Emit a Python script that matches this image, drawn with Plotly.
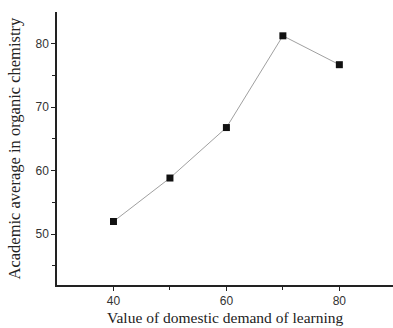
import plotly.graph_objects as go

demand = [40, 50, 60, 70, 80]
average = [52.0, 58.85, 66.8, 81.25, 76.7]

fig = go.Figure()
fig.add_trace(go.Scatter(
    x=demand, y=average, mode="lines+markers",
    line=dict(color="#a0a0a0", width=1),
    marker=dict(symbol="square", size=7, color="#111111"),
    showlegend=False,
))

axis_common = dict(
    showline=True, linecolor="#222222", linewidth=1.5,
    showgrid=False, zeroline=False, mirror=False,
    ticks="outside", ticklen=4, tickwidth=1.2, tickcolor="#222222",
    tickfont=dict(family="Liberation Sans, Arial", size=12, color="#333333"),
)
title_font = dict(family="Liberation Serif, Times New Roman", color="#222222")

fig.update_layout(
    width=393, height=328,
    margin=dict(l=57, r=0, t=12, b=43),
    paper_bgcolor="white", plot_bgcolor="white",
    xaxis=dict(
        range=[30, 89.5], tickvals=[40, 60, 80],
        minor=dict(ticks="outside", ticklen=3, tickwidth=1,
                   tickcolor="#222222", tickvals=[50, 70]),
        **axis_common,
    ),
    yaxis=dict(
        range=[42, 85], tickvals=[50, 60, 70, 80],
        minor=dict(ticks="outside", ticklen=3, tickwidth=1,
                   tickcolor="#222222", tickvals=[45, 55, 65, 75]),
        **axis_common,
    ),
    annotations=[
        dict(text="Value of domestic demand of learning",
             xref="paper", yref="paper", x=0.5, y=0, xanchor="center", yanchor="middle",
             yshift=-32, showarrow=False, font={**title_font, "size": 15.5}),
        dict(text="Academic average in organic chemistry",
             xref="paper", yref="paper", x=0, y=0.5, xanchor="center", yanchor="middle",
             xshift=-43, textangle=-90, showarrow=False, font={**title_font, "size": 16.5}),
    ],
)

fig.write_html("out.html")
